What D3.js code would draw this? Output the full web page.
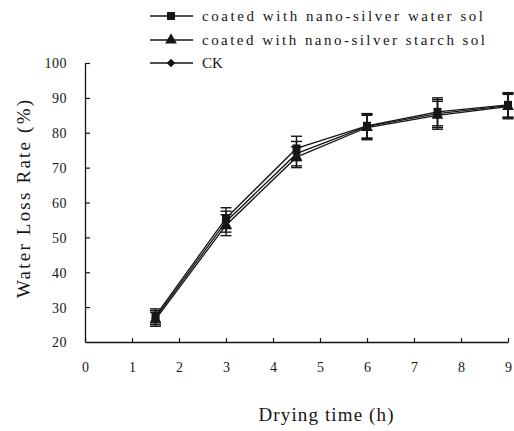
<!DOCTYPE html>
<html>
<head>
<meta charset="utf-8">
<script src="https://cdn.jsdelivr.net/npm/d3@7"></script>
<style>
  body { margin: 0; background: #fff; }
  svg { display: block; }
  svg text { font-family: "Liberation Serif", "Times New Roman", Times, Tinos, "DejaVu Serif", "Noto Serif", serif !important; fill: #161616; }
</style>
</head>
<body>
<svg id="chart" width="514" height="431"></svg>
<script>
// drying time (h)
const times = [1.5, 3, 4.5, 6, 7.5, 9];
const xTicks = [0, 1, 2, 3, 4, 5, 6, 7, 8, 9];
const yTicks = [20, 30, 40, 50, 60, 70, 80, 90, 100];

// water loss rate (%) and error bars
const waterSol = [27.5, 55.5, 75.5, 82.0, 86.0, 88.0];
const waterSolErr = [2.0, 3.0, 3.5, 3.5, 4.0, 3.5];
const starchSol = [26.5, 53.5, 73.0, 81.5, 85.0, 87.5];
const starchSolErr = [2.0, 3.0, 3.0, 3.5, 4.0, 3.5];
const ck = [27.0, 54.5, 74.0, 81.8, 85.5, 87.8];
const ckErr = [2.0, 3.0, 3.5, 3.5, 4.0, 3.5];

const seriesNames = [
  'coated with nano-silver water sol',
  'coated with nano-silver starch sol',
  'CK'
];

const series = [
  { name: seriesNames[0], values: waterSol, err: waterSolErr, symbol: 'square' },
  { name: seriesNames[1], values: starchSol, err: starchSolErr, symbol: 'triangle' },
  { name: seriesNames[2], values: ck, err: ckErr, symbol: 'diamond' }
];

const svg = d3.select('#chart');
const ink = '#161616';
const serif = '"Liberation Serif", "Times New Roman", Times, Tinos, "DejaVu Serif", "Noto Serif", serif';

const x = d3.scaleLinear().domain([0, 9]).range([85, 508]);
const y = d3.scaleLinear().domain([20, 100]).range([342, 63]);

function symbolPath(kind) {
  if (kind === 'square') return d3.symbol().type(d3.symbolSquare).size(64)();
  if (kind === 'triangle') return d3.symbol().type(d3.symbolTriangle).size(60)();
  return d3.symbol().type(d3.symbolSquare).size(36)();
}

// axes
let xAxis = svg.append('g')
  .attr('transform', `translate(0,${y(20)})`)
  .call(d3.axisBottom(x).tickValues(xTicks).tickSizeInner(-4).tickSizeOuter(0).tickFormat(d3.format('d')));
xAxis.attr('font-family', serif);
xAxis.select('.domain').attr('stroke', ink).attr('stroke-width', 1.3);
xAxis.selectAll('.tick line').attr('stroke', ink).attr('stroke-width', 1.2);
xAxis.selectAll('.tick text')
  .attr('y', 25).attr('dy', '0.35em')
  .attr('font-size', 14).attr('fill', ink);

let yAxis = svg.append('g')
  .attr('transform', `translate(${x(0)},0)`)
  .call(d3.axisLeft(y).tickValues(yTicks).tickSizeInner(-5).tickSizeOuter(0));
yAxis.attr('font-family', serif);
yAxis.select('.domain').attr('stroke', ink).attr('stroke-width', 1.3);
yAxis.selectAll('.tick line').attr('stroke', ink).attr('stroke-width', 1.2);
yAxis.selectAll('.tick text')
  .attr('x', -18).attr('dy', '0.35em')
  .attr('font-size', 14).attr('fill', ink)
  .attr('letter-spacing', 0.5);
svg.selectAll('.tick line').filter(d => d === 20).remove();

// axis titles
svg.append('text')
  .attr('x', 326).attr('y', 421)
  .attr('text-anchor', 'middle')
  .attr('font-size', 19)
  .attr('textLength', 135)
  .text('Drying time (h)');

svg.append('text')
  .attr('transform', 'translate(30,199) rotate(-90)')
  .attr('text-anchor', 'middle')
  .attr('font-size', 19)
  .attr('textLength', 198)
  .text('Water Loss Rate (%)');

// lines, error bars, markers
const line = d3.line()
  .x((d, i) => x(times[i]))
  .y(d => y(d));

series.forEach((s) => {
  svg.append('path')
    .datum(s.values)
    .attr('d', line)
    .attr('fill', 'none')
    .attr('stroke', ink)
    .attr('stroke-width', 1.3);
});

series.forEach((s) => {
  let g = svg.append('g').attr('stroke', ink).attr('stroke-width', 1.4);
  s.values.forEach((v, i) => {
    let cx = x(times[i]);
    let top = y(v + s.err[i]);
    let bot = y(v - s.err[i]);
    g.append('line').attr('x1', cx).attr('x2', cx).attr('y1', top).attr('y2', bot);
    g.append('line').attr('x1', cx - 5.5).attr('x2', cx + 5.5).attr('y1', top).attr('y2', top);
    g.append('line').attr('x1', cx - 5.5).attr('x2', cx + 5.5).attr('y1', bot).attr('y2', bot);
  });
});

series.forEach((s) => {
  s.values.forEach((v, i) => {
    svg.append('path')
      .attr('d', symbolPath(s.symbol))
      .attr('transform', `translate(${x(times[i])},${y(v)})` + (s.symbol === 'diamond' ? ' rotate(45)' : ''))
      .attr('fill', ink);
  });
});

// legend
const legendRows = [16, 40, 63];
series.forEach((s, i) => {
  let ly = legendRows[i];
  svg.append('line')
    .attr('x1', 150).attr('x2', 193).attr('y1', ly).attr('y2', ly)
    .attr('stroke', ink).attr('stroke-width', 1.3);
  svg.append('path')
    .attr('d', symbolPath(s.symbol))
    .attr('transform', `translate(171,${ly})` + (s.symbol === 'diamond' ? ' rotate(45)' : ''))
    .attr('fill', ink);
  let t = svg.append('text')
    .attr('x', 202).attr('y', ly).attr('dy', '0.35em')
    .attr('font-size', 15)
    .text(s.name);
  if (i === 0) t.attr('textLength', 281);
  if (i === 1) t.attr('textLength', 283);
});
</script>
</body>
</html>
